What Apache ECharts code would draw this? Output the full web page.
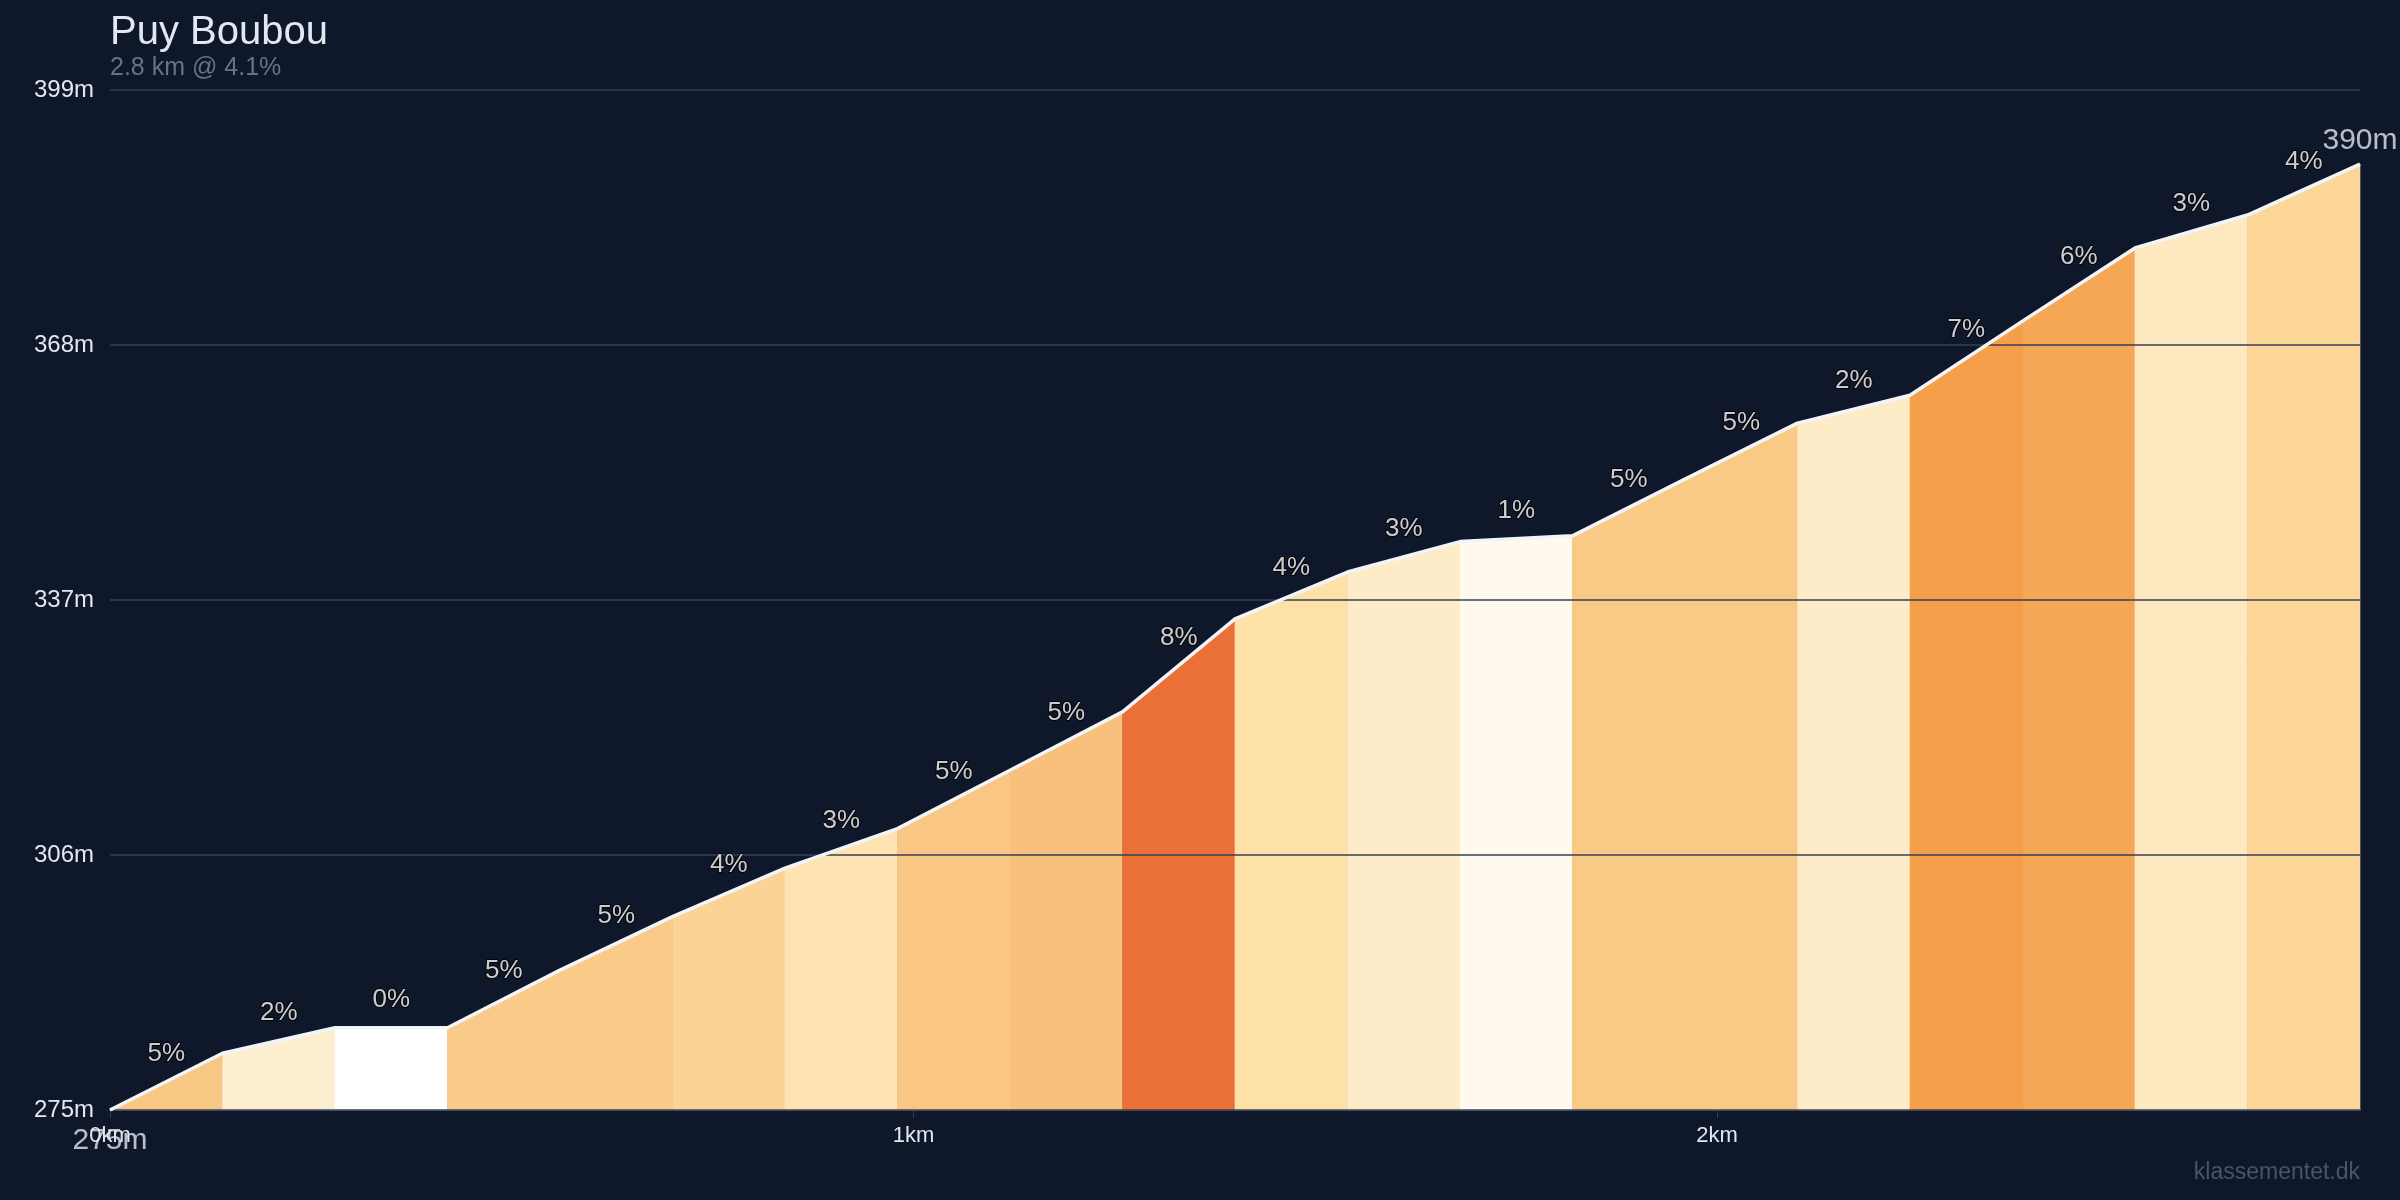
<!DOCTYPE html>
<html>
<head>
<meta charset="utf-8">
<script src="https://cdn.jsdelivr.net/npm/echarts@6/dist/echarts.min.js"></script>
<style>
html,body{margin:0;padding:0;background:#0f172a;}
#chart{width:2400px;height:1200px;}
</style>
</head>
<body>
<div id="chart"></div>
<script>
// Distance (km) of each profile point
const distances = [0, 0.14, 0.28, 0.42, 0.56, 0.70, 0.84, 0.98, 1.12, 1.26, 1.40, 1.54, 1.68, 1.82, 1.96, 2.10, 2.24, 2.38, 2.52, 2.66, 2.80];
// Elevation (m) at each point
const elevations = [275, 281.9, 285.0, 285.0, 292.0, 298.5, 304.4, 309.2, 316.3, 323.4, 334.7, 340.4, 344.1, 344.8, 351.7, 358.5, 361.9, 370.9, 379.8, 383.8, 390];
// Gradient label per segment (%)
const grades = [5, 2, 0, 5, 5, 4, 3, 5, 5, 8, 4, 3, 1, 5, 5, 2, 7, 6, 3, 4];
// Fill colour per segment
const segColors = ['#f9c784', '#feeed0', '#ffffff', '#f9ca88', '#f9ca88', '#fbd394', '#fde4b2', '#f9c683', '#f8c07c', '#eb7038',
                   '#fde1a7', '#feebc7', '#fff9ee', '#f9c986', '#f9c986', '#feecc9', '#f69f4b', '#f6a755', '#fee8bf', '#fcd798'];
// Y axis ticks
const yMin = 275, yMax = 399, yStep = 31;
const xTicks = [0, 1, 2];
const titleText = 'Puy Boubou';
const subText = '2.8 km @ 4.1%';

const segData = [];
const labelData = [];
for (let i = 0; i < grades.length; i++) {
  segData.push([distances[i], elevations[i], distances[i + 1], elevations[i + 1], i]);
  labelData.push({ value: [(distances[i] + distances[i + 1]) / 2, (elevations[i] + elevations[i + 1]) / 2], grade: grades[i] });
}
const lineData = distances.map((d, i) => [d, elevations[i]]);
const last = distances.length - 1;

const chart = echarts.init(document.getElementById('chart'));
const font = 'Arial, "Liberation Sans", sans-serif';
chart.setOption({
  backgroundColor: '#0f172a',
  animation: false,
  textStyle: { fontFamily: font },
  title: {
    text: titleText, subtext: subText,
    left: 110, top: 13, padding: 0, itemGap: 3,
    textStyle: { color: '#e2e8f0', fontSize: 40, fontWeight: 'normal', fontFamily: font },
    subtextStyle: { color: '#64748b', fontSize: 25, fontFamily: font }
  },
  grid: { left: 110, right: 40, top: 90, bottom: 90 },
  xAxis: {
    type: 'value', min: 0, max: distances[last],
    axisLine: { show: true, lineStyle: { color: '#334155', width: 2 } },
    axisTick: { show: true, customValues: xTicks, length: 8, lineStyle: { color: '#334155' } },
    axisLabel: { customValues: xTicks, color: '#e2e8f0', fontSize: 22, margin: 15, formatter: v => v + 'km' },
    splitLine: { show: false }
  },
  yAxis: {
    type: 'value', min: yMin, max: yMax, interval: yStep, z: 3,
    axisLine: { show: false }, axisTick: { show: false },
    axisLabel: { color: '#e2e8f0', fontSize: 24, margin: 16, formatter: '{value}m' },
    splitLine: { show: true, lineStyle: { color: '#334155', width: 1.5 } }
  },
  graphic: [{
    type: 'text', right: 40, bottom: 16,
    style: { text: 'klassementet.dk', fill: '#475569', fontSize: 23, fontFamily: font }
  }],
  series: [
    {
      type: 'custom', z: 2,
      data: segData,
      renderItem: function (params, api) {
        const p0 = api.coord([api.value(0), api.value(1)]);
        const p1 = api.coord([api.value(2), api.value(3)]);
        const b1 = api.coord([api.value(2), yMin]);
        const b0 = api.coord([api.value(0), yMin]);
        return {
          type: 'polygon',
          shape: { points: [p0, p1, b1, b0] },
          style: { fill: segColors[api.value(4)], stroke: segColors[api.value(4)], lineWidth: 0.6 }
        };
      },
      encode: { x: [0, 2], y: [1, 3] }
    },
    {
      type: 'line', z: 5, data: lineData, symbol: 'none',
      lineStyle: { color: '#f1f5f9', width: 3.5 }
    },
    {
      type: 'scatter', z: 6, symbolSize: 0, data: labelData,
      label: {
        show: true, position: 'top', distance: 15,
        formatter: p => p.data.grade + '%',
        color: '#ffffff', fontSize: 26, textBorderColor: '#000000', textBorderWidth: 2
      }
    },
    {
      type: 'scatter', z: 6, symbolSize: 0,
      data: [
        { value: [distances[0], elevations[0]], label: { position: 'bottom', distance: 16 } },
        { value: [distances[last], elevations[last]], label: { position: 'top', distance: 8 } }
      ],
      label: {
        show: true, color: '#e2e8f0', fontSize: 30,
        formatter: p => Math.round(p.value[1]) + 'm'
      }
    }
  ]
});
</script>
</body>
</html>
